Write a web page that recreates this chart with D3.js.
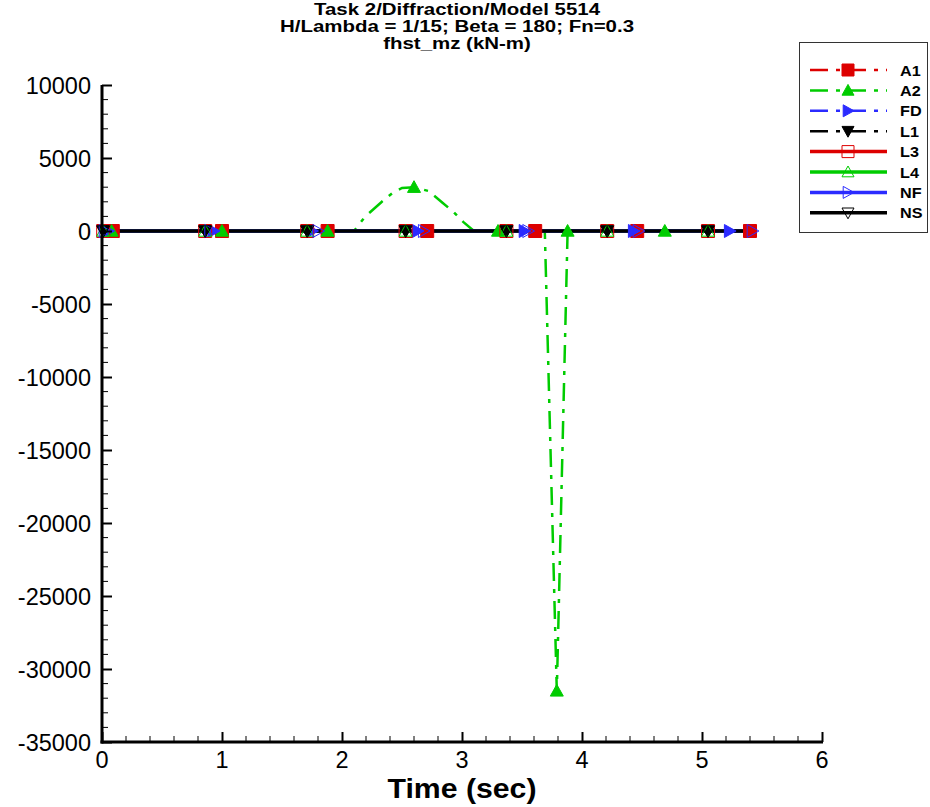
<!DOCTYPE html>
<html>
<head>
<meta charset="utf-8">
<script src="https://cdn.jsdelivr.net/npm/d3@7"></script>
<style>
  html, body { margin: 0; padding: 0; background: #fff; }
  svg { display: block; font-family: Arial, "Liberation Sans", Helvetica, sans-serif; }
</style>
</head>
<body>
<svg id="chart" width="930" height="807"></svg>
<script>
// ---------------- data ----------------
const titleLines = ["Task 2/Diffraction/Model 5514", "H/Lambda = 1/15; Beta = 180; Fn=0.3", "fhst_mz (kN-m)"];
const xLabel = "Time (sec)";
const xTicks = [0, 1, 2, 3, 4, 5, 6];
const yTicks = [10000, 5000, 0, -5000, -10000, -15000, -20000, -25000, -30000, -35000];

const seriesNames = ["A1", "A2", "FD", "L1", "L3", "L4", "NF", "NS"];

const a1Times  = [0.09, 1.0, 1.88, 2.71, 3.61, 4.46, 5.4];
const a1Values = [0, 0, 0, 0, 0, 0, 0];
const a1Marks  = [0, 1, 2, 3, 4, 5, 6];

const a2Times  = [0.08, 1.0, 1.88, 2.1, 2.19, 2.33, 2.42, 2.5, 2.6, 2.72, 2.84, 2.93, 3.01, 3.1, 3.3, 3.69, 3.79, 3.88, 4.69, 5.4];
const a2Values = [0, 0, 0, 0, 960, 1990, 2600, 2950, 3000, 2740, 1920, 1300, 620, 0, 0, 0, -31500, 0, 0, 0];
const a2Marks  = [0, 1, 2, 8, 14, 16, 17, 18];

const fdTimes  = [0.05, 0.93, 1.75, 2.63, 3.52, 4.43, 5.23];
const fdValues = [0, 0, 0, 0, 0, 0, 0];
const fdMarks  = [0, 1, 2, 3, 4, 5, 6];

const lTimes   = [0.01, 0.86, 1.71, 2.53, 3.37, 4.21, 5.05, 5.42];
const l1Values = [0, 0, 0, 0, 0, 0, 0, 0];
const l3Values = [0, 0, 0, 0, 0, 0, 0, 0];
const l4Values = [0, 0, 0, 0, 0, 0, 0, 0];
const nsValues = [0, 0, 0, 0, 0, 0, 0, 0];
const lMarks   = [0, 1, 2, 3, 4, 5, 6];

const nfTimes  = [0.02, 0.9, 1.8, 2.68, 3.55, 4.47, 5.42];
const nfValues = [0, 0, 0, 0, 0, 0, 0];
const nfMarks  = [0, 1, 2, 3, 4, 5, 6];

// ---------------- styles ----------------
const RED = "#dd0000", GREEN = "#00cc00", BLUE = "#2b2bff", BLACK = "#000000";
const DASHDOT = "18,8,4,8";
const series = [
  { name: "A1", t: a1Times, v: a1Values, m: a1Marks, color: RED,   dash: DASHDOT, shape: "square", filled: true },
  { name: "A2", t: a2Times, v: a2Values, m: a2Marks, color: GREEN, dash: DASHDOT, shape: "up",     filled: true },
  { name: "FD", t: fdTimes, v: fdValues, m: fdMarks, color: BLUE,  dash: DASHDOT, shape: "right",  filled: true },
  { name: "L1", t: lTimes,  v: l1Values, m: lMarks,  color: BLACK, dash: DASHDOT, shape: "down",   filled: true },
  { name: "L3", t: lTimes,  v: l3Values, m: lMarks,  color: RED,   dash: null,    shape: "square", filled: false },
  { name: "L4", t: lTimes,  v: l4Values, m: lMarks,  color: GREEN, dash: null,    shape: "up",     filled: false },
  { name: "NF", t: nfTimes, v: nfValues, m: nfMarks, color: BLUE,  dash: null,    shape: "right",  filled: false },
  { name: "NS", t: lTimes,  v: nsValues, m: lMarks,  color: BLACK, dash: null,    shape: "down",   filled: false }
];

// ---------------- layout ----------------
const svg = d3.select("#chart");
const x = d3.scaleLinear().domain([0, 6]).range([102, 822]);
const y = d3.scaleLinear().domain([-35000, 10000]).range([742, 85]);

// title (slightly widened glyphs like the original renderer)
svg.append("g").selectAll("text").data(titleLines).join("text")
  .attr("transform", (d, i) => `translate(457,${15 + i * 17}) scale(1.24,1)`)
  .attr("text-anchor", "middle")
  .attr("font-size", 16.5).attr("font-weight", "bold").attr("fill", "#000")
  .text(d => d);

// marker path
function markerPath(shape, s) {
  const h = s / 2;
  switch (shape) {
    case "square": return `M${-h},${-h}H${h}V${h}H${-h}Z`;
    case "up":     return `M0,${-h}L${h},${h * 0.8}L${-h},${h * 0.8}Z`;
    case "down":   return `M0,${h}L${h},${-h * 0.8}L${-h},${-h * 0.8}Z`;
    case "right":  return `M${h},0L${-h * 0.8},${h}L${-h * 0.8},${-h}Z`;
  }
}

// lines
const lineGen = d3.line().x(d => x(d[0])).y(d => y(d[1]));
const linesG = svg.append("g");
series.forEach(s => {
  const pts = s.t.map((t, i) => [t, s.v[i]]);
  linesG.append("path")
    .attr("d", lineGen(pts))
    .attr("fill", "none")
    .attr("stroke", s.color)
    .attr("stroke-width", s.dash ? 2.5 : 3.5)
    .attr("stroke-dasharray", s.dash);
});

// markers
const marksG = svg.append("g");
series.forEach(s => {
  marksG.selectAll(null).data(s.m).join("path")
    .attr("transform", i => `translate(${x(s.t[i])},${y(s.v[i])})`)
    .attr("d", markerPath(s.shape, 13))
    .attr("fill", s.filled ? s.color : "none")
    .attr("stroke", s.color)
    .attr("stroke-width", 1);
});

// axes
const yAxisG = svg.append("g").attr("transform", "translate(102,0)");
const yMinor = d3.range(-35000, 10001, 1000).filter(v => v % 5000 !== 0);
yAxisG.selectAll(".ymin").data(yMinor).join("line")
  .attr("x1", 0).attr("x2", 6).attr("y1", d => y(d)).attr("y2", d => y(d))
  .attr("stroke", "#000").attr("stroke-width", 1);
const yAxis = d3.axisRight(y).tickValues(yTicks).tickSize(10).tickFormat("");
yAxisG.call(yAxis);
yAxisG.select(".domain").remove();
yAxisG.selectAll(".tick line").attr("stroke-width", 2);
yAxisG.selectAll(".ylab").data(yTicks).join("text")
  .attr("x", -11).attr("y", d => y(d) + 8.5)
  .attr("text-anchor", "end").attr("font-size", 23.5)
  .attr("fill", "#000").attr("font-family", "Arial, 'Liberation Sans', sans-serif")
  .text(d => d);

const xAxisG = svg.append("g").attr("transform", "translate(0,742)");
const xMinor = d3.range(0, 6.01, 0.2).filter(v => Math.abs(v - Math.round(v)) > 1e-6);
xAxisG.selectAll(".xmin").data(xMinor).join("line")
  .attr("x1", d => x(d)).attr("x2", d => x(d)).attr("y1", 0).attr("y2", -6)
  .attr("stroke", "#000").attr("stroke-width", 1);
const xAxis = d3.axisTop(x).tickValues(xTicks).tickSize(10).tickFormat("");
xAxisG.call(xAxis);
xAxisG.select(".domain").remove();
xAxisG.selectAll(".tick line").attr("stroke-width", 2);
xAxisG.selectAll(".xlab").data(xTicks).join("text")
  .attr("x", d => x(d)).attr("y", 26)
  .attr("text-anchor", "middle").attr("font-size", 23.5)
  .attr("fill", "#000").attr("font-family", "Arial, 'Liberation Sans', sans-serif")
  .text(d => d);

// axis lines
svg.append("line").attr("x1", 102).attr("x2", 102).attr("y1", y(10000)).attr("y2", 743.5)
  .attr("stroke", "#000").attr("stroke-width", 3);
svg.append("line").attr("x1", 100.5).attr("x2", 823).attr("y1", 742).attr("y2", 742)
  .attr("stroke", "#000").attr("stroke-width", 3);

// x label
svg.append("text").attr("transform", "translate(462,798) scale(1.08,1)")
  .attr("text-anchor", "middle").attr("font-size", 28).attr("font-weight", "bold")
  .attr("fill", "#000")
  .text(xLabel);

// legend
const leg = svg.append("g");
leg.append("rect").attr("x", 799.5).attr("y", 42.5).attr("width", 128).attr("height", 190)
  .attr("fill", "#fff").attr("stroke", "#333").attr("stroke-width", 1);
series.forEach((s, i) => {
  const yy = 70 + i * 20.4;
  leg.append("line").attr("x1", 810).attr("x2", 887).attr("y1", yy).attr("y2", yy)
    .attr("stroke", s.color).attr("stroke-width", s.dash ? 2.5 : 3.5)
    .attr("stroke-dasharray", s.dash);
  leg.append("path").attr("transform", `translate(848,${yy})`)
    .attr("d", markerPath(s.shape, 12))
    .attr("fill", s.filled ? s.color : "none")
    .attr("stroke", s.color).attr("stroke-width", 1);
  leg.append("text").attr("transform", `translate(900,${yy + 5.5}) scale(1.08,1)`)
    .attr("font-size", 15).attr("font-weight", "bold").attr("fill", "#000").text(s.name);
});
</script>
</body>
</html>
